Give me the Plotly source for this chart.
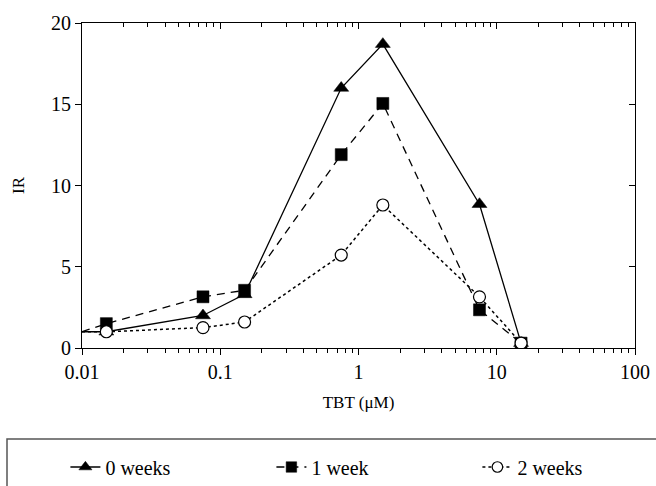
import plotly.graph_objects as go

tbt = [0.01, 0.015, 0.075, 0.15, 0.75, 1.5, 7.5, 15]
ir_0w = [1.0, 1.0, 2.0, 3.3, 16.0, 18.7, 8.85, 0.3]
ir_1w = [1.0, 1.5, 3.15, 3.55, 11.9, 15.05, 2.35, 0.3]
ir_2w = [1.0, 1.0, 1.25, 1.6, 5.72, 8.8, 3.15, 0.3]
names = ["0 weeks", "1 week", "2 weeks"]
x_major = [0.01, 0.1, 1, 10, 100]
x_labels = ["0.01", "0.1", "1", "10", "100"]

FONT = "Times New Roman"
minor_vals = [m * 10 ** e for e in range(-2, 2) for m in range(2, 10)]


def sizes(s):
    return [0] + [s] * (len(tbt) - 1)


fig = go.Figure()
fig.add_trace(go.Scatter(x=tbt, y=ir_0w, name=names[0], mode="lines+markers",
                         line=dict(color="black", width=1.3, dash="solid"),
                         marker=dict(symbol="triangle-up", size=sizes(13), color="#000000",
                                     opacity=1, line=dict(width=0.5, color="#000000"))))
fig.add_trace(go.Scatter(x=tbt, y=ir_1w, name=names[1], mode="lines+markers",
                         line=dict(color="black", width=1.3, dash="8px,6px"),
                         marker=dict(symbol="square", size=sizes(12), color="#000000",
                                     opacity=1, line=dict(width=0.5, color="#000000"))))
fig.add_trace(go.Scatter(x=tbt, y=ir_2w, name=names[2], mode="lines+markers",
                         line=dict(color="black", width=1.5, dash="dot"),
                         marker=dict(symbol="circle", size=sizes(12), color="white",
                                     opacity=1, line=dict(color="black", width=1.2))))

fig.update_layout(
    width=656, height=486,
    margin=dict(l=82, r=21, t=23, b=138, autoexpand=False),
    paper_bgcolor="white", plot_bgcolor="white",
    font=dict(family=FONT, color="black", size=17),
    xaxis=dict(type="log", range=[-2, 2], tickvals=x_major, ticktext=x_labels,
               automargin=False,
               showline=True, linecolor="black", linewidth=1,
               ticks="outside", ticklen=6, tickcolor="black",
               minor=dict(ticks="outside", ticklen=4, tickcolor="black", tickvals=minor_vals),
               showgrid=False, zeroline=False,
               tickfont=dict(family=FONT, size=20),
               title=dict(text="TBT (μM)", font=dict(family=FONT, size=17), standoff=14)),
    yaxis=dict(range=[0, 20], dtick=5, showline=True, linecolor="black", linewidth=1,
               automargin=False,
               ticks="outside", ticklen=6, tickcolor="black",
               showgrid=False, zeroline=False, tickfont=dict(family=FONT, size=20),
               title=dict(text="IR", font=dict(family=FONT, size=17), standoff=22)),
    xaxis2=dict(type="log", range=[-2, 2], overlaying="x", side="top", anchor="y",
                automargin=False,
                showline=True, linecolor="black", linewidth=1,
                ticks="inside", ticklen=6, tickcolor="black", showticklabels=False,
                tickvals=x_major,
                minor=dict(ticks="inside", ticklen=4, tickcolor="black", tickvals=minor_vals),
                showgrid=False, zeroline=False),
    yaxis2=dict(range=[0, 20], overlaying="y", side="right", anchor="x",
                automargin=False,
                showline=True, linecolor="black", linewidth=1,
                ticks="inside", ticklen=6, tickcolor="black", showticklabels=False,
                dtick=5, showgrid=False, zeroline=False),
    legend=dict(orientation="h", x=-0.03, xanchor="left", y=(348 - 467) / 325, yanchor="middle",
                font=dict(family=FONT, size=20), entrywidth=161, entrywidthmode="pixels",
                bgcolor="rgba(0,0,0,0)", borderwidth=0),
    showlegend=True,
)
fig.add_trace(go.Scatter(x=[0.01], y=[0], xaxis="x2", yaxis="y2", mode="markers",
                         marker=dict(opacity=0), showlegend=False, hoverinfo="skip"))

fig.add_shape(type="rect", xref="paper", yref="paper",
              x0=(7 - 82) / 553, x1=1.2, y0=-0.6, y1=(348 - 439) / 325,
              line=dict(color="#555555", width=1.5), fillcolor="rgba(0,0,0,0)")

fig.write_html("out.html", config={"displayModeBar": False},
               post_script="document.body.style.margin='0';document.body.style.overflow='hidden';")
